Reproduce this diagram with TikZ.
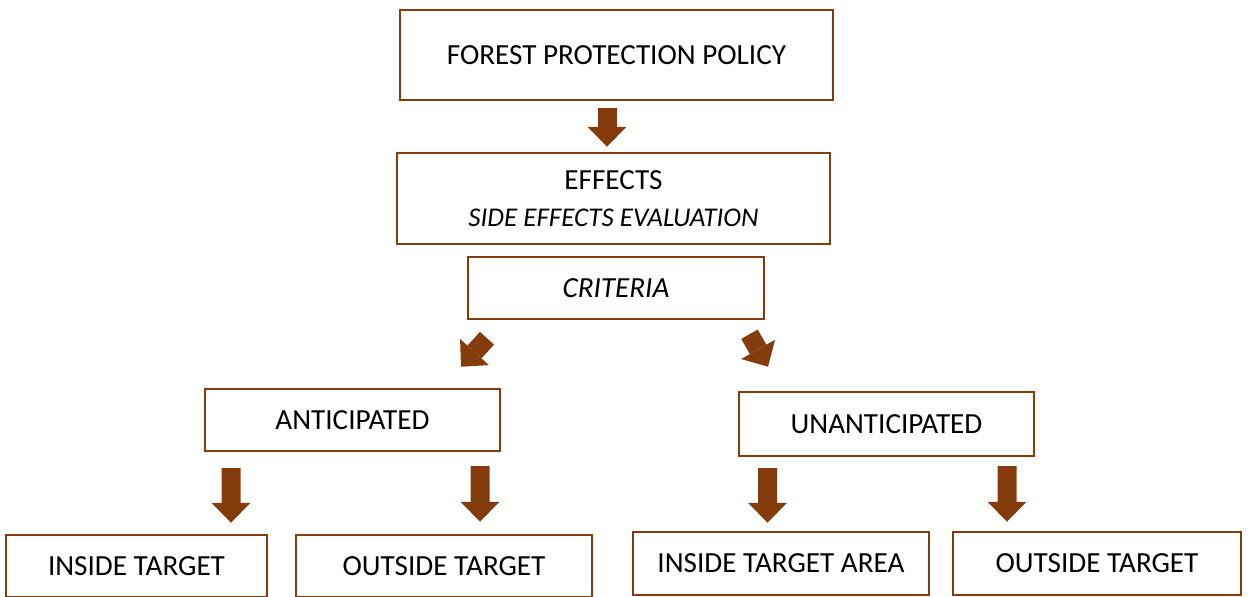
\documentclass[tikz,border=0pt]{standalone}
\usepackage{fontspec}
\setmainfont{Carlito}
\usetikzlibrary{arrows.meta,calc}
\definecolor{brownline}{HTML}{843C0C}
\begin{document}
\begin{tikzpicture}[x=0.02cm,y=-0.02cm,
	box/.style={draw=brownline,line width=0.05cm,inner sep=0pt,align=center,font=\fontsize{16.6}{20.5}\selectfont},
	bigarrow/.style={brownline,line width=0.38cm,-{Triangle[length=0.4cm,width=0.78cm,line width=0pt]}}]
	\useasboundingbox (0,0) rectangle (1248,597);
	% boxes
	\node[box,minimum width=8.66cm,minimum height=1.8cm] (policy) at (616.5,55) {FOREST PROTECTION POLICY};
	\node[box,minimum width=8.66cm,minimum height=1.82cm,text depth=0pt] (effects) at (613.5,198.5) {EFFECTS\\[1pt]{\fontsize{15.4}{20.5}\selectfont\itshape SIDE EFFECTS EVALUATION}};
	\node[box,minimum width=5.92cm,minimum height=1.24cm] (criteria) at (616,288) {\textit{CRITERIA}};
	\node[box,minimum width=5.9cm,minimum height=1.24cm] (antic) at (352.5,420) {ANTICIPATED};
	\node[box,minimum width=5.9cm,minimum height=1.28cm] (unantic) at (886.5,424) {UNANTICIPATED};
	\node[box,minimum width=5.22cm,minimum height=1.24cm] (in1) at (136.5,566) {INSIDE TARGET};
	\node[box,minimum width=5.92cm,minimum height=1.24cm] (out1) at (444,566) {OUTSIDE TARGET};
	\node[box,minimum width=5.92cm,minimum height=1.26cm] (in2) at (781,563.5) {INSIDE TARGET AREA};
	\node[box,minimum width=5.76cm,minimum height=1.26cm] (out2) at (1097,563.5) {OUTSIDE TARGET};
	% arrows
	\draw[bigarrow] ($(policy.south)+(-9.5,7)$) -- ($(effects.north)+(-6.5,-5)$);
	\draw[bigarrow] ($(criteria.south)+(-129,18)$) -- ($(antic.north)+(108.5,-21)$);
	\draw[bigarrow] ($(criteria.south)+(133.5,14)$) -- ($(unantic.north)+(-118.5,-24)$);
	\draw[bigarrow] ($(antic.south)+(-121.5,16)$) -- ($(in1.north)+(94.5,-11)$);
	\draw[bigarrow] ($(antic.south)+(127.5,14)$) -- ($(out1.north)+(36,-12)$);
	\draw[bigarrow] ($(unantic.south)+(-119,11)$) -- ($(in2.north)+(-13.5,-8)$);
	\draw[bigarrow] ($(unantic.south)+(120.5,9)$) -- ($(out2.north)+(-90,-9)$);
\end{tikzpicture}
\end{document}
